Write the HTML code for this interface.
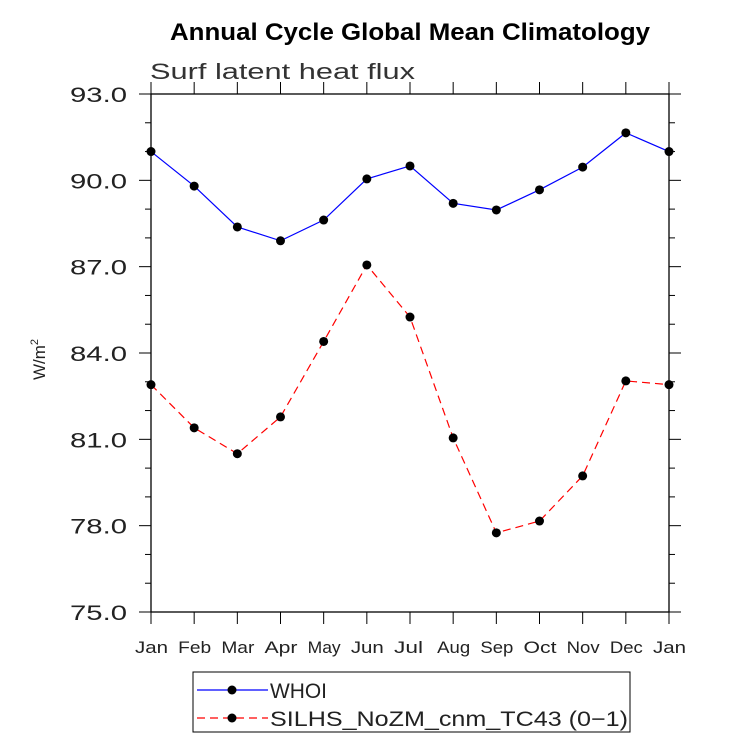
<!DOCTYPE html>
<html><head><meta charset="utf-8"><style>
body{margin:0;background:#fff}
svg text{font-family:"Liberation Sans",sans-serif}
</style></head><body>
<svg width="733" height="748" xmlns="http://www.w3.org/2000/svg">
<text x="170" y="40" textLength="480" lengthAdjust="spacingAndGlyphs" font-size="24" font-weight="bold">Annual Cycle Global Mean Climatology</text>
<text x="150" y="79" textLength="265" lengthAdjust="spacingAndGlyphs" font-size="22" fill="#333">Surf latent heat flux</text>
<text transform="translate(45,380) rotate(-90)" font-size="17" fill="#222">W/m<tspan dy="-7" font-size="11">2</tspan></text>
<g id="axes"></g>
<g id="series"></g>
<rect x="193" y="672" width="437" height="60" fill="none" stroke="#000" stroke-width="1"/>
<line x1="197" y1="690" x2="268" y2="690" stroke="blue" stroke-width="1.2"/>
<circle cx="232" cy="690" r="4.5"/>
<text x="270" y="698" textLength="57" lengthAdjust="spacingAndGlyphs" font-size="21" fill="#222">WHOI</text>
<line x1="197" y1="718" x2="268" y2="718" stroke="red" stroke-width="1.2" stroke-dasharray="8,5"/>
<circle cx="232" cy="718" r="4.5"/>
<text x="270" y="726" textLength="358" lengthAdjust="spacingAndGlyphs" font-size="21" fill="#222">SILHS_NoZM_cnm_TC43 (0−1)</text>
</svg>
<script>
const months=["Jan","Feb","Mar","Apr","May","Jun","Jul","Aug","Sep","Oct","Nov","Dec","Jan"];
const whoi=[91.0,89.8,88.38,87.9,88.62,90.05,90.5,89.2,88.97,89.67,90.46,91.65,91.0];
const silhs=[82.9,81.4,80.5,81.78,84.4,87.06,85.25,81.05,77.75,78.16,79.73,83.03,82.9];
const yTicks=[75,78,81,84,87,90,93];
const X0=151,X1=669,Y0=94,Y1=612,YMIN=75,YMAX=93;
const xs=i=>X0+(X1-X0)*i/12;
const ys=v=>Y1-(v-YMIN)/(YMAX-YMIN)*(Y1-Y0);
const NS="http://www.w3.org/2000/svg";
function mk(t,a,p){const e=document.createElementNS(NS,t);for(const k in a)e.setAttribute(k,a[k]);p.appendChild(e);return e;}
const ax=document.getElementById('axes');
const fr=mk('rect',{x:X0,y:Y0,width:X1-X0,height:Y1-Y0,fill:'none',stroke:'#000','stroke-width':1.3},ax);


months.forEach((m,i)=>{const x=xs(i);
 mk('line',{x1:x,y1:Y0,x2:x,y2:Y0-12,stroke:'#000'},ax);
 mk('line',{x1:x,y1:Y1,x2:x,y2:Y1+12,stroke:'#000'},ax);
 const t=mk('text',{x:x-16,y:653,textLength:m==='Jul'?29:33,lengthAdjust:'spacingAndGlyphs','font-size':17,fill:'#222'},ax);t.textContent=m;
 
 
});
for(let v=YMIN;v<=YMAX;v++){const y=ys(v);const maj=(v-YMIN)%3===0;const L=maj?12:6;
 mk('line',{x1:X0,y1:y,x2:X0-L,y2:y,stroke:'#000'},ax);
 mk('line',{x1:X1,y1:y,x2:X1+L,y2:y,stroke:'#000'},ax);}
yTicks.forEach(v=>{const t=mk('text',{x:70,y:ys(v)+8,textLength:57,lengthAdjust:'spacingAndGlyphs','font-size':21,fill:'#222'},ax);t.textContent=v.toFixed(1);
 
 });
const sg=document.getElementById('series');
function draw(vals,col,dash,name){
 const pl=mk('polyline',{points:vals.map((v,i)=>xs(i)+','+ys(v)).join(' '),fill:'none',stroke:col,'stroke-width':1.2,'stroke-dasharray':dash},sg);
 
 
 vals.forEach((v,i)=>{const c=mk('circle',{cx:xs(i),cy:ys(v),r:4.5,fill:'#000'},sg);
  
  });
}
draw(whoi,'blue','none','whoi');
draw(silhs,'red','8,5','silhs');
</script>
</body></html>
